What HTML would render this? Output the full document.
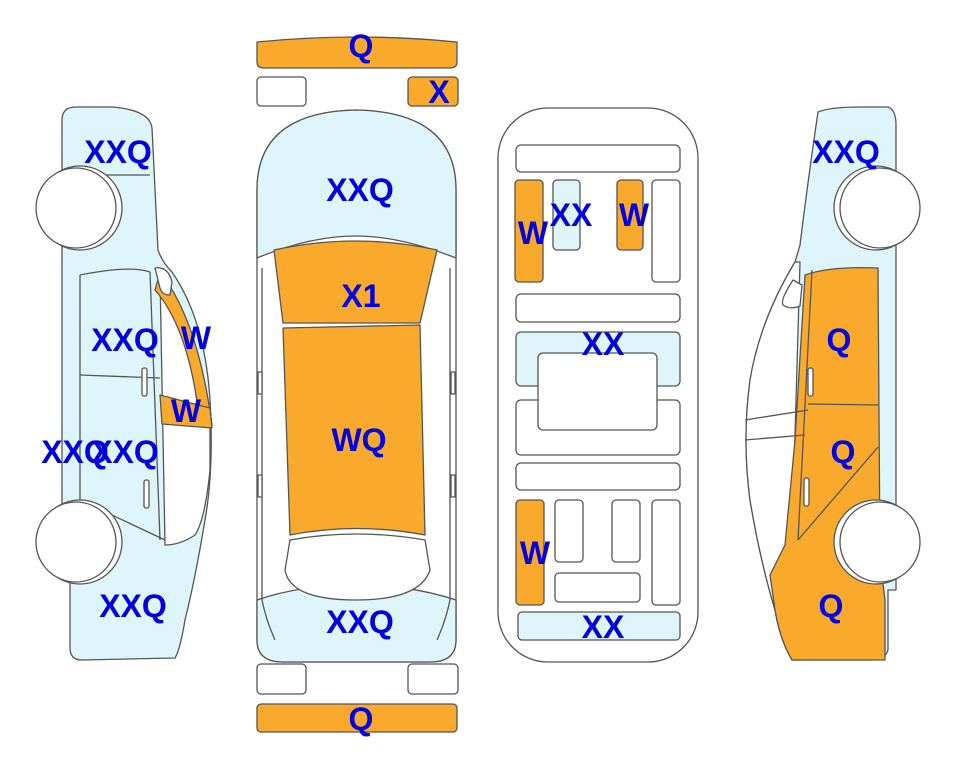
<!DOCTYPE html>
<html><head><meta charset="utf-8"><style>
html,body{margin:0;padding:0;background:#fff;}
svg{display:block}
text{font-family:"Liberation Sans",Arial,sans-serif;font-weight:bold;font-size:32px;fill:#0000e0;text-anchor:middle}
</style></head><body>
<svg width="963" height="768" viewBox="0 0 963 768" xmlns="http://www.w3.org/2000/svg">
<g stroke="#555" stroke-width="1.3" stroke-linejoin="round">
<!-- LEFT CAR -->
<path d="M62,120 Q62,107 76,107 L112,107 Q150,110 152,128 L158,250 Q162,262 172,272 Q205,320 210,400 Q214,470 205,520 Q195,580 185,620 Q180,650 175,658 L82,660 Q70,660 70,648 L70,580 L62,580 Z" fill="#dff5fc"/>
<path d="M160,275 Q200,330 210,420 L210,470 Q205,520 195,535 Q180,545 165,545 Z" fill="#fff"/>
<path d="M160,272 Q198,320 212,425 L200,425 Q190,330 155,290 Z" fill="#f9a92b"/>
<path d="M160,395 L210,408 L212,428 L162,424 Z" fill="#f9a92b"/>
<line x1="80" y1="375" x2="160" y2="378"/>
<line x1="80" y1="500" x2="165" y2="540"/>
<line x1="150" y1="272" x2="160" y2="540"/>
<path d="M80,275 Q130,265 150,272" fill="none"/>
<line x1="80" y1="275" x2="80" y2="500"/>
<path d="M155,268 L160,288 Q162,295 170,295 L172,282 Q168,266 155,268Z" fill="#fff"/>
<rect x="142" y="368" width="5" height="28" rx="2" fill="#fff"/>
<rect x="144" y="480" width="5" height="28" rx="2" fill="#fff"/>
<line x1="62" y1="175" x2="150" y2="175"/>
<circle cx="80" cy="208" r="42" fill="#fff"/>
<circle cx="76" cy="208" r="40" fill="#fff"/>
<circle cx="80" cy="542" r="42" fill="#fff"/>
<circle cx="76" cy="542" r="40" fill="#fff"/>
<!-- RIGHT CAR -->
<path d="M818,112 Q830,107 860,107 L888,107 Q896,110 896,125 L896,590 L888,590 L888,650 Q885,660 872,660 L792,660 Q780,640 775,610 Q760,560 750,500 Q742,440 750,380 Q760,320 795,262 L800,245 Q808,180 818,112 Z" fill="#dff5fc"/>
<path d="M795,262 Q760,320 750,380 Q742,440 750,500 Q760,560 775,610 L792,540 L800,262 Z" fill="#fff"/>
<path d="M805,275 Q830,266 878,268 L880,560 L885,600 L885,660 L792,660 Q780,640 775,610 L770,575 L785,545 L795,440 Z" fill="#f9a92b"/>
<line x1="745" y1="420" x2="808" y2="410"/>
<line x1="745" y1="440" x2="805" y2="435"/>
<line x1="808" y1="404" x2="878" y2="405"/>
<line x1="812" y1="270" x2="798" y2="540"/>
<line x1="798" y1="540" x2="878" y2="447"/>
<path d="M793,280 Q780,300 783,305 Q790,310 800,306 L802,285 Z" fill="#fff"/>
<rect x="808" y="368" width="5" height="28" rx="2" fill="#fff"/>
<rect x="804" y="478" width="5" height="28" rx="2" fill="#fff"/>
<line x1="880" y1="175" x2="896" y2="175"/>
<circle cx="876" cy="208" r="42" fill="#fff"/>
<circle cx="880" cy="208" r="40" fill="#fff"/>
<circle cx="876" cy="542" r="42" fill="#fff"/>
<circle cx="880" cy="542" r="40" fill="#fff"/>
<!-- CENTER TOP VIEW -->
<path d="M257,42 Q357,32 457,42 L457,62 Q457,68 450,68 L264,68 Q257,68 257,62 Z" fill="#f9a92b"/>
<rect x="257" y="77" width="49" height="29" rx="4" fill="#fff"/>
<rect x="408" y="77" width="50" height="29" rx="4" fill="#f9a92b"/>
<rect x="257" y="664" width="49" height="30" rx="4" fill="#fff"/>
<rect x="408" y="664" width="50" height="30" rx="4" fill="#fff"/>
<rect x="257" y="704" width="200" height="28" rx="4" fill="#f9a92b"/>
<path d="M257,190 Q257,112 356,110 Q456,112 456,190 L456,640 Q456,662 430,662 L283,662 Q257,662 257,640 Z" fill="#fff"/>
<path d="M257,190 Q257,112 356,110 Q456,112 456,190 L456,258 Q400,236 356,236 Q310,236 257,258 Z" fill="#dff5fc"/>
<path d="M257,635 L257,600 Q300,585 356,585 Q410,585 456,600 L456,640 Q456,662 430,662 L283,662 Q257,662 257,640 Z" fill="#dff5fc"/>
<path d="M262,268 L262,600 Q266,620 275,640 M450,268 L450,600 Q446,620 437,640" fill="none"/>
<path d="M274,250 Q356,232 437,250 L420,323 L283,323 Z" fill="#f9a92b"/>
<path d="M283,328 L420,325 L425,535 Q356,522 290,535 Z" fill="#f9a92b"/>
<path d="M290,540 Q356,528 425,540 L430,570 Q420,600 356,600 Q290,600 285,570 Z" fill="#fff"/>
<rect x="258" y="372" width="4" height="22" fill="#fff"/>
<rect x="451" y="372" width="4" height="22" fill="#fff"/>
<rect x="258" y="475" width="4" height="22" fill="#fff"/>
<rect x="451" y="475" width="4" height="22" fill="#fff"/>
<!-- UNDERBODY -->
<rect x="498" y="108" width="200" height="554" rx="50" fill="#fff"/>
<rect x="516" y="145" width="164" height="27" rx="5" fill="#fff"/>
<rect x="515" y="180" width="28" height="102" rx="4" fill="#f9a92b"/>
<rect x="553" y="180" width="27" height="70" rx="4" fill="#dff5fc"/>
<rect x="617" y="180" width="26" height="70" rx="4" fill="#f9a92b"/>
<rect x="652" y="180" width="28" height="102" rx="4" fill="#fff"/>
<rect x="516" y="294" width="164" height="28" rx="5" fill="#fff"/>
<rect x="516" y="400" width="164" height="55" rx="5" fill="#fff"/>
<rect x="516" y="332" width="164" height="54" rx="5" fill="#dff5fc"/>
<rect x="538" y="353" width="119" height="77" rx="5" fill="#fff"/>
<rect x="516" y="463" width="164" height="27" rx="5" fill="#fff"/>
<rect x="516" y="500" width="28" height="105" rx="4" fill="#f9a92b"/>
<rect x="555" y="500" width="28" height="62" rx="4" fill="#fff"/>
<rect x="612" y="500" width="28" height="62" rx="4" fill="#fff"/>
<rect x="652" y="500" width="28" height="105" rx="4" fill="#fff"/>
<rect x="555" y="573" width="85" height="29" rx="4" fill="#fff"/>
<rect x="518" y="612" width="162" height="28" rx="4" fill="#dff5fc"/>
</g>
<text x="118" y="163">XXQ</text>
<text x="125" y="351">XXQ</text>
<text x="196" y="349">W</text>
<text x="186" y="422">W</text>
<text x="75" y="463">XXQ</text>
<text x="125" y="463">XXQ</text>
<text x="133" y="617">XXQ</text>
<text x="361" y="57">Q</text>
<text x="439" y="103">X</text>
<text x="360" y="201">XXQ</text>
<text x="361" y="307">X1</text>
<text x="359" y="451">WQ</text>
<text x="360" y="633">XXQ</text>
<text x="361" y="730">Q</text>
<text x="533" y="244">W</text>
<text x="571" y="226">XX</text>
<text x="634" y="226">W</text>
<text x="603" y="355">XX</text>
<text x="535" y="564">W</text>
<text x="603" y="638">XX</text>
<text x="846" y="163">XXQ</text>
<text x="839" y="351">Q</text>
<text x="843" y="463">Q</text>
<text x="831" y="617">Q</text>
</svg>
</body></html>
